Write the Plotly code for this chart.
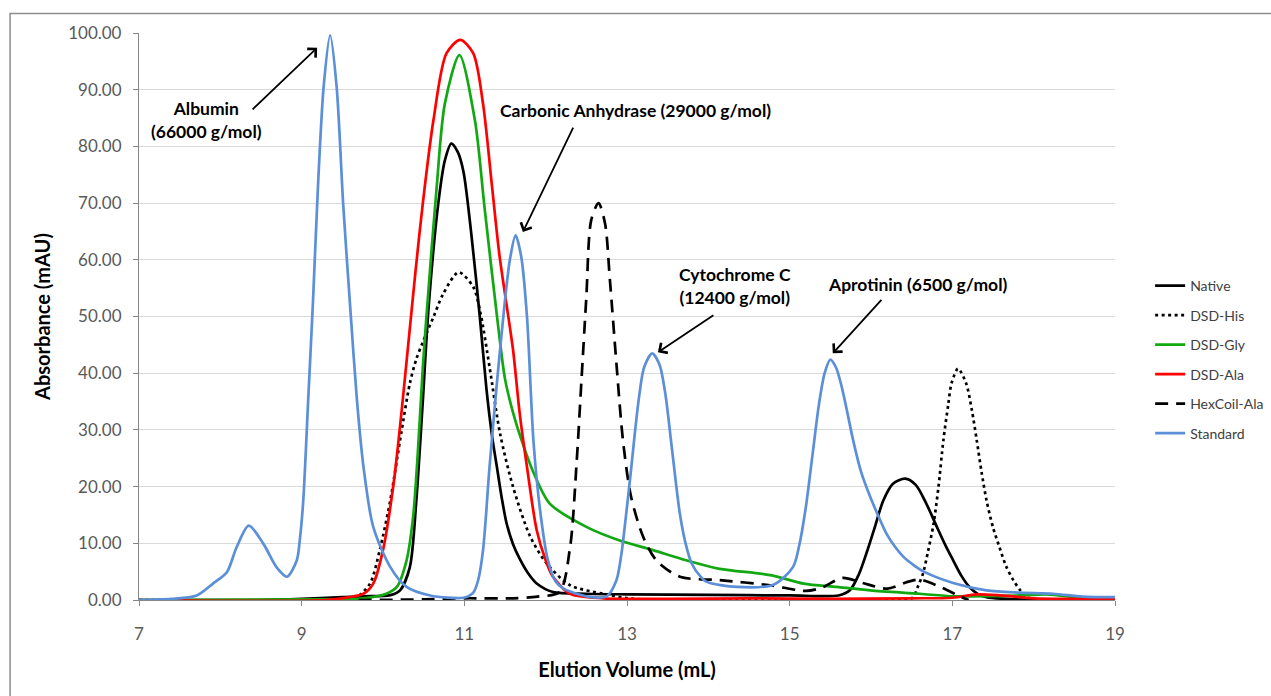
import plotly.graph_objects as go

# ---------------- data ----------------
x_ticks = [7, 9, 11, 13, 15, 17, 19]
y_ticks = [0, 10, 20, 30, 40, 50, 60, 70, 80, 90, 100]

native_x = [7.0, 8.5, 9.0, 9.5, 9.76, 10.09, 10.21, 10.33, 10.41, 10.49, 10.56, 10.68, 10.76, 10.84,
            10.92, 10.99, 11.09, 11.19, 11.27, 11.34, 11.40, 11.46, 11.52, 11.60, 11.68, 11.78, 11.89,
            12.09, 12.5, 13.0, 14.0, 15.0, 15.6, 15.74, 15.85, 15.95, 16.05, 16.15, 16.27, 16.42,
            16.55, 16.68, 16.81, 16.92, 17.01, 17.11, 17.21, 17.32, 17.42, 17.8, 18.5, 19.0]
native_y = [0, 0, 0.2, 0.5, 0.65, 0.85, 1.7, 5.8, 17.6, 35.2, 51.5, 70.0, 77.5, 80.5,
            79.0, 75.5, 64.0, 50.0, 37.5, 29.0, 23.5, 18.0, 13.5, 9.8, 7.3, 4.8, 2.9,
            1.4, 1.1, 1.0, 0.9, 0.8, 0.8, 1.7, 4.5, 8.5, 13.0, 17.5, 20.5, 21.4,
            20.3, 17.0, 12.9, 9.5, 7.0, 4.3, 2.3, 1.0, 0.5, 0.1, 0.1, 0.1]

his_x = [7.0, 9.3, 9.67, 9.84, 9.96, 10.09, 10.21, 10.33, 10.41, 10.49, 10.62, 10.74, 10.93, 11.11,
         11.20, 11.31, 11.44, 11.60, 11.81, 12.01, 12.30, 12.71, 13.04, 14.0, 16.0, 16.50, 16.58,
         16.64, 16.70, 16.77, 16.83, 16.89, 16.95, 16.99, 17.07, 17.17, 17.24, 17.30, 17.36, 17.42,
         17.50, 17.58, 17.66, 17.75, 17.83, 17.91, 18.2, 19.0]
his_y = [0, 0, 0.5, 2.9, 8.8, 17.6, 28.2, 38.2, 42.5, 45.5, 49.9, 54.0, 57.8, 55.2,
         50.5, 41.1, 29.3, 19.9, 11.2, 6.5, 2.6, 1.1, 0.25, 0, 0, 0.3, 2.5,
         4.7, 8.5, 13.5, 20.0, 28.2, 34.5, 38.2, 40.8, 38.2, 33.5, 28.2, 22.5, 17.6,
         12.8, 9.3, 6.0, 3.5, 1.8, 0.5, 0, 0]

gly_x = [7.0, 9.0, 9.76, 10.04, 10.17, 10.29, 10.37, 10.43, 10.49, 10.55, 10.66, 10.76, 10.94, 11.13,
         11.25, 11.41, 11.50, 11.60, 11.72, 11.85, 12.05, 12.50, 12.91, 13.32, 13.73, 14.14, 14.76,
         15.17, 15.58, 15.99, 16.60, 17.01, 17.5, 17.83, 18.16, 18.65, 19.0]
gly_y = [0, 0.1, 0.3, 1.1, 2.3, 7.0, 14.6, 26.4, 41.1, 53.0, 72.8, 87.5, 96.1, 84.6,
         69.0, 49.0, 39.0, 33.0, 27.5, 22.5, 17.0, 12.9, 10.5, 8.8, 7.0, 5.5, 4.4,
         2.9, 2.3, 1.7, 1.1, 0.65, 0.7, 0.8, 1.0, 0.3, 0.3]

ala_x = [7.0, 9.3, 9.59, 9.76, 9.88, 10.00, 10.13, 10.23, 10.31, 10.40, 10.49, 10.62, 10.78,
         10.95, 11.11, 11.23, 11.34, 11.43, 11.52, 11.60, 11.68, 11.77, 11.89, 12.00, 12.09, 12.30,
         12.71, 13.5, 14.5, 15.5, 16.5, 17.0, 17.3, 17.6, 18.0, 18.5, 19.0]
ala_y = [0, 0, 0.5, 1.1, 2.9, 8.8, 20.5, 33.5, 45.0, 58.0, 70.0, 84.6, 96.4,
         98.8, 96.4, 87.5, 73.0, 61.0, 52.0, 44.0, 33.0, 23.5, 12.3, 7.0, 4.1, 1.1,
         0.3, 0.2, 0.3, 0.2, 0.3, 0.4, 1.0, 0.8, 0.3, 0.2, 0.1]

hex_x = [9.7, 10.5, 11.0, 11.6, 11.9, 12.17, 12.30, 12.38, 12.44, 12.50, 12.56, 12.65, 12.73, 12.79,
         12.87, 12.95, 13.05, 13.20, 13.36, 13.65, 14.14, 14.76, 15.2, 15.4, 15.65, 15.9, 16.2,
         16.45, 16.6, 16.85, 17.1, 17.2]
hex_y = [0, 0.1, 0.3, 0.3, 0.6, 1.4, 9.3, 24.1, 38.7, 53.4, 67.0, 70.0, 66.4, 56.4,
         41.7, 28.2, 18.2, 11.1, 7.0, 4.1, 3.5, 2.6, 1.6, 2.2, 3.9, 3.0, 2.0,
         3.2, 3.6, 2.3, 0.6, 0]

std_x = [7.0, 7.4, 7.71, 7.91, 8.08, 8.20, 8.35, 8.53, 8.69, 8.82, 8.94, 8.98, 9.02, 9.08, 9.14,
         9.20, 9.27, 9.35, 9.43, 9.51, 9.60, 9.68, 9.76, 9.88, 10.09, 10.29, 10.58, 10.99, 11.11,
         11.17, 11.23, 11.31, 11.40, 11.50, 11.56, 11.63, 11.70, 11.77, 11.85, 11.93, 12.02, 12.12,
         12.22, 12.50, 12.75, 12.87, 12.93, 12.99, 13.05, 13.10, 13.15, 13.21, 13.31, 13.40, 13.47,
         13.55, 13.65, 13.72, 13.80, 13.90, 13.98, 14.35, 14.80, 15.04, 15.12, 15.20, 15.28, 15.36,
         15.43, 15.50, 15.57, 15.64, 15.71, 15.78, 15.88, 15.99, 16.10, 16.19, 16.30, 16.40, 16.52,
         16.65, 17.01, 17.42, 17.8, 18.24, 18.6, 19.0]
std_y = [0, 0.2, 0.8, 2.9, 4.9, 9.3, 13.1, 9.9, 5.8, 4.1, 7.0, 11.0, 17.6, 35.2, 52.9,
         72.8, 90.5, 99.6, 90.5, 69.9, 51.0, 35.2, 23.5, 12.9, 5.8, 2.3, 0.8, 0.4, 1.3,
         3.5, 8.8, 23.5, 38.2, 52.9, 60.0, 64.3, 60.5, 50.0, 28.0, 16.0, 7.5, 3.3,
         2.0, 0.65, 0.65, 3.5, 8.0, 15.2, 23.0, 29.9, 36.0, 41.0, 43.5, 41.5, 36.5,
         27.0, 15.2, 10.0, 6.3, 4.2, 3.2, 2.3, 2.7, 5.8, 9.8, 16.5, 25.5, 34.5,
         40.0, 42.4, 41.0, 37.6, 33.0, 28.2, 22.5, 18.2, 14.5, 11.7, 9.3, 7.6, 6.2,
         5.0, 3.0, 1.7, 1.3, 1.1, 0.6, 0.5]

series_names = ["Native", "DSD-His", "DSD-Gly", "DSD-Ala", "HexCoil-Ala", "Standard"]
series_x = [native_x, his_x, gly_x, ala_x, hex_x, std_x]
series_y = [native_y, his_y, gly_y, ala_y, hex_y, std_y]

label_texts = ["<b>Albumin</b><br><b>(66000 g/mol)</b>",
               "<b>Carbonic Anhydrase (29000 g/mol)</b>",
               "<b>Cytochrome C</b><br><b>(12400 g/mol)</b>",
               "<b>Aprotinin (6500 g/mol)</b>"]
label_x = [7.836, 13.10, 14.33, 16.58]
label_y = [84.6, 86.4, 55.4, 55.7]
arrow_x = [9.19, 11.72, 13.38, 15.53]
arrow_y = [97.4, 64.9, 43.7, 43.5]
arrow_ax = [-66, 51, 57, 50]
arrow_ay = [63, -106, -38, -55]

# ---------------- styles ----------------
styles = [
    dict(color="#000000", width=2.7),
    dict(color="#000000", width=2.7, dash="3px,3.5px"),
    dict(color="#12A812", width=2.7),
    dict(color="#FF0000", width=2.7),
    dict(color="#000000", width=2.7, dash="13px,8px"),
    dict(color="#5B8FD8", width=2.7),
]

FONT = "Lato"
fig = go.Figure()
for i, (name, xs, ys, st) in enumerate(zip(series_names, series_x, series_y, styles)):
    fig.add_trace(go.Scatter(x=xs, y=ys, name=name, mode="lines",
                             line=dict(shape="spline", smoothing=0.8, **st),
                             legendgroup=f"g{i}"))

for t, x, y in zip(label_texts, label_x, label_y):
    fig.add_annotation(x=x, y=y, text=t, showarrow=False,
                       font=dict(family=FONT, size=17.5, color="#000000"),
                       xanchor="center", yanchor="middle", align="center")
for x, y, ax, ay in zip(arrow_x, arrow_y, arrow_ax, arrow_ay):
    fig.add_annotation(x=x, y=y, ax=ax, ay=ay, text="", showarrow=True,
                       arrowhead=4, arrowsize=1.3, arrowwidth=1.8, arrowcolor="#000000")

# outer chart border (Excel chart area)
fig.add_shape(type="rect", xref="paper", yref="paper",
              x0=-0.1321, x1=1.19, y0=-0.2, y1=1.0342,
              line=dict(color="#8C8C8C", width=1.5), fillcolor="rgba(0,0,0,0)", layer="below")

fig.update_layout(
    width=1271, height=696,
    margin=dict(l=139, r=156, t=33, b=96, autoexpand=False),
    paper_bgcolor="white", plot_bgcolor="white",
    font=dict(family=FONT, color="#595959"),
    showlegend=True,
    legend=dict(x=1.036, y=0.582, xanchor="left", yanchor="top",
                font=dict(family=FONT, size=14, color="#404040"),
                tracegroupgap=8.3, bgcolor="rgba(0,0,0,0)"),
    xaxis=dict(range=[7, 19], tickvals=x_ticks, ticktext=[str(v) for v in x_ticks],
               showgrid=False, zeroline=False, showline=True, linecolor="#868686", linewidth=1.2,
               ticks="outside", ticklen=5, tickcolor="#868686", tickwidth=1.2,
               tickfont=dict(family=FONT, size=17, color="#595959"), ticklabelstandoff=13,
               title=dict(text="<b>Elution Volume (mL)</b>", standoff=20,
                          font=dict(family=FONT, size=20, color="#000000")),
               automargin=False),
    yaxis=dict(range=[0, 100], tickvals=y_ticks, tickformat=".2f",
               showgrid=True, gridcolor="#D9D9D9", gridwidth=1.3, zeroline=False,
               showline=True, linecolor="#868686", linewidth=1.2,
               ticks="outside", ticklen=5, tickcolor="#868686", tickwidth=1.2,
               tickfont=dict(family=FONT, size=17, color="#595959"), ticklabelstandoff=8,
               title=dict(text="<b>Absorbance (mAU)</b>", standoff=12,
                          font=dict(family=FONT, size=20, color="#000000")),
               automargin=False),
)

fig.write_html("out.html")
